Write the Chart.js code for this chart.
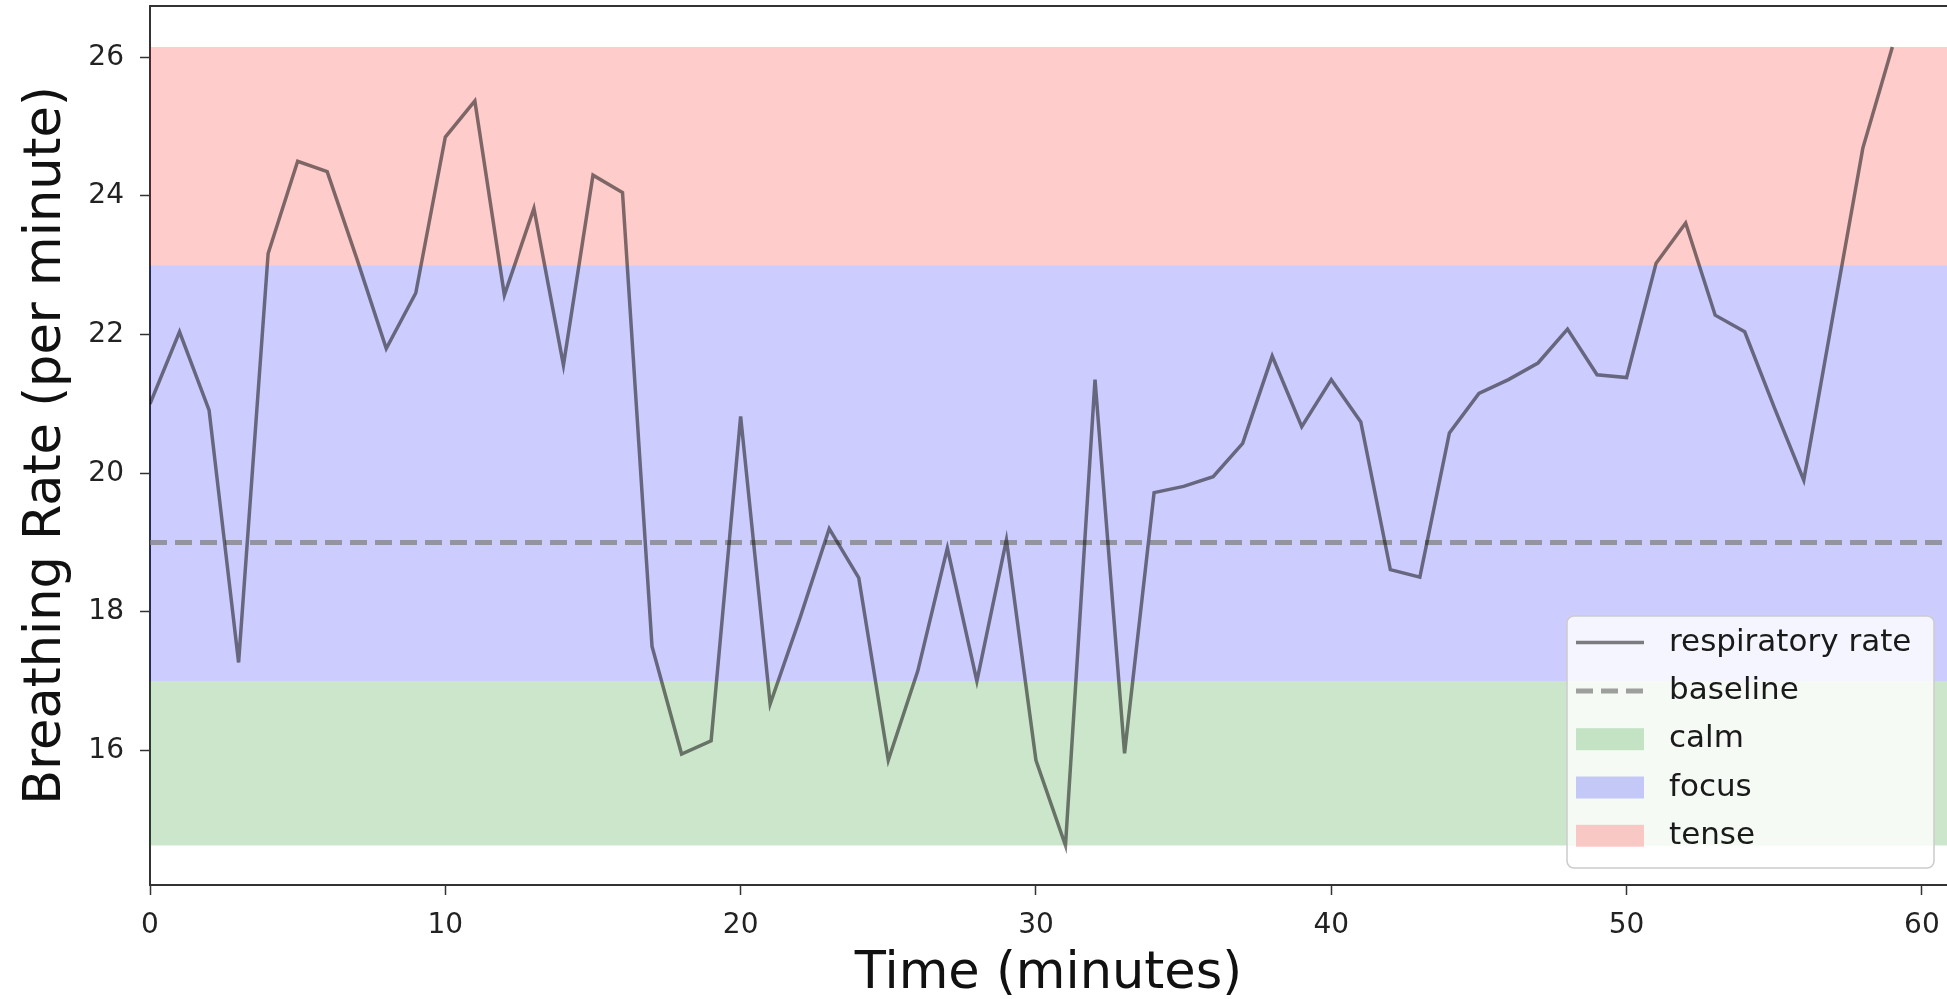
<!DOCTYPE html>
<html>
<head>
<meta charset="utf-8">
<script src="https://cdn.jsdelivr.net/npm/chart.js@4.4.1/dist/chart.umd.min.js"></script>
<style>
  html, body { margin: 0; padding: 0; background: #fff; }
  #chart { display: block; }
</style>
</head>
<body>
<canvas id="chart" width="1947" height="999"></canvas>
<script>
// minutes since start
const minutes = [0, 1, 2, 3, 4, 5, 6, 7, 8, 9,
  10, 11, 12, 13, 14, 15, 16, 17, 18, 19,
  20, 21, 22, 23, 24, 25, 26, 27, 28, 29,
  30, 31, 32, 33, 34, 35, 36, 37, 38, 39,
  40, 41, 42, 43, 44, 45, 46, 47, 48, 49,
  50, 51, 52, 53, 54, 55, 56, 57, 58, 59];

// breaths per minute
const respiratoryRate = [21.0, 22.04, 20.91, 17.27, 23.17, 24.5, 24.35, 23.1, 21.8, 22.6,
  24.85, 25.37, 22.57, 23.82, 21.56, 24.3, 24.05, 17.5, 15.95, 16.14,
  20.82, 16.67, 17.9, 19.2, 18.49, 15.86, 17.15, 18.92, 17.0, 19.04,
  15.86, 14.63, 21.35, 15.96, 19.72, 19.81, 19.95, 20.43, 21.69, 20.67,
  21.35, 20.74, 18.61, 18.5, 20.58, 21.15, 21.35, 21.59, 22.08, 21.42,
  21.38, 23.03, 23.61, 22.28, 22.04, 20.95, 19.9, 22.3, 24.69, 26.15];

const baselineRate = 19;

// zone bands [from, to]
const calmBand = [14.63, 17];
const focusBand = [17, 23];
const tenseBand = [23, 26.15];

const xTickValues = [0, 10, 20, 30, 40, 50, 60];
const yTickValues = [16, 18, 20, 22, 24, 26];
const xRange = [0, 60.85];
const yRange = [14.06, 26.74];

const FONT = 'DejaVu Sans';

function bandDataset(label, band, color) {
  return {
    label: label,
    data: [{ x: xRange[0], y: band[0] }, { x: xRange[1], y: band[0] }],
    fill: { target: { value: band[1] } },
    backgroundColor: color,
    borderWidth: 0,
    pointRadius: 0
  };
}

const topSpine = {
  id: 'topSpine',
  afterDatasetsDraw(chart) {
    const { ctx, chartArea } = chart;
    ctx.save();
    ctx.strokeStyle = '#333';
    ctx.lineWidth = 2;
    ctx.beginPath();
    ctx.moveTo(chartArea.left - 1, chartArea.top);
    ctx.lineTo(chartArea.right, chartArea.top);
    ctx.stroke();
    ctx.restore();
  }
};

// legend box in the lower right corner of the plot, like matplotlib's
const legendBox = {
  id: 'legendBox',
  afterDraw(chart) {
    const { ctx, chartArea } = chart;
    const w = 367, h = 252, rowH = 48.3;
    const right = chartArea.right - 13;
    const bottom = chartArea.bottom - 17;
    const left = right - w, top = bottom - h;

    ctx.save();
    ctx.beginPath();
    ctx.roundRect(left, top, w, h, 7);
    ctx.fillStyle = 'rgba(255,255,255,0.8)';
    ctx.fill();
    ctx.strokeStyle = '#cccccc';
    ctx.lineWidth = 1.5;
    ctx.stroke();

    ctx.font = '31px "' + FONT + '"';
    ctx.textBaseline = 'middle';
    ctx.textAlign = 'left';

    chart.data.datasets.forEach((ds, i) => {
      const cy = top + 26.6 + i * rowH;
      const hx = left + 9, hw = 68;
      if (ds.fill) {
        ctx.fillStyle = ds.backgroundColor;
        ctx.fillRect(hx, cy - 11, hw, 22);
      } else {
        ctx.beginPath();
        ctx.setLineDash(ds.borderDash || []);
        ctx.strokeStyle = ds.borderColor;
        ctx.lineWidth = ds.borderWidth;
        ctx.moveTo(hx, cy);
        ctx.lineTo(hx + hw, cy);
        ctx.stroke();
        ctx.setLineDash([]);
      }
      ctx.fillStyle = '#1a1a1a';
      ctx.fillText(ds.label, left + 102, cy);
    });
    ctx.restore();
  }
};

new Chart(document.getElementById('chart'), {
  type: 'line',
  data: {
    datasets: [
      {
        label: 'respiratory rate',
        data: minutes.map((m, i) => ({ x: m, y: respiratoryRate[i] })),
        borderColor: 'rgba(0,0,0,0.5)',
        borderWidth: 3.5,
        pointRadius: 0,
        tension: 0,
        fill: false
      },
      {
        label: 'baseline',
        data: [{ x: xRange[0], y: baselineRate }, { x: xRange[1], y: baselineRate }],
        borderColor: 'rgba(128,128,128,0.75)',
        borderWidth: 5,
        borderDash: [17, 8],
        pointRadius: 0,
        fill: false
      },
      bandDataset('calm', calmBand, 'rgba(0,128,0,0.2)'),
      bandDataset('focus', focusBand, 'rgba(0,0,255,0.2)'),
      bandDataset('tense', tenseBand, 'rgba(255,0,0,0.2)')
    ]
  },
  options: {
    responsive: false,
    animation: false,
    devicePixelRatio: 1,
    layout: { padding: { top: 6, right: 0, bottom: 0, left: 0 } },
    plugins: {
      legend: { display: false },
      tooltip: { enabled: false },
      title: { display: false }
    },
    scales: {
      x: {
        type: 'linear',
        min: xRange[0],
        max: xRange[1],
        afterBuildTicks: s => { s.ticks = xTickValues.map(v => ({ value: v })); },
        afterFit: s => { s.height = 114; s.paddingLeft = 0; s.paddingRight = 0; },
        grid: { drawOnChartArea: false, drawTicks: true, tickLength: 10, tickColor: '#333', tickWidth: 1.5 },
        border: { display: true, color: '#333', width: 2 },
        ticks: {
          font: { family: FONT, size: 28 },
          color: '#222',
          padding: 14,
          maxRotation: 0,
          autoSkip: false,
          includeBounds: false
        },
        title: {
          display: true,
          text: 'Time (minutes)',
          color: '#111',
          font: { family: FONT, size: 51, lineHeight: 0.88 },
          padding: { top: 0, bottom: 2 }
        }
      },
      y: {
        type: 'linear',
        min: yRange[0],
        max: yRange[1],
        afterBuildTicks: s => { s.ticks = yTickValues.map(v => ({ value: v })); },
        afterFit: s => { s.width = 150; s.paddingTop = 0; s.paddingBottom = 0; },
        grid: { drawOnChartArea: false, drawTicks: true, tickLength: 10, tickColor: '#333', tickWidth: 1.5 },
        border: { display: true, color: '#333', width: 2 },
        ticks: {
          font: { family: FONT, size: 28 },
          color: '#222',
          padding: 16,
          includeBounds: false
        },
        title: {
          display: true,
          text: 'Breathing Rate (per minute)',
          color: '#111',
          font: { family: FONT, size: 51, lineHeight: 0.88 },
          padding: { top: 24, bottom: 0 }
        }
      }
    }
  },
  plugins: [topSpine, legendBox]
});
</script>
</body>
</html>
